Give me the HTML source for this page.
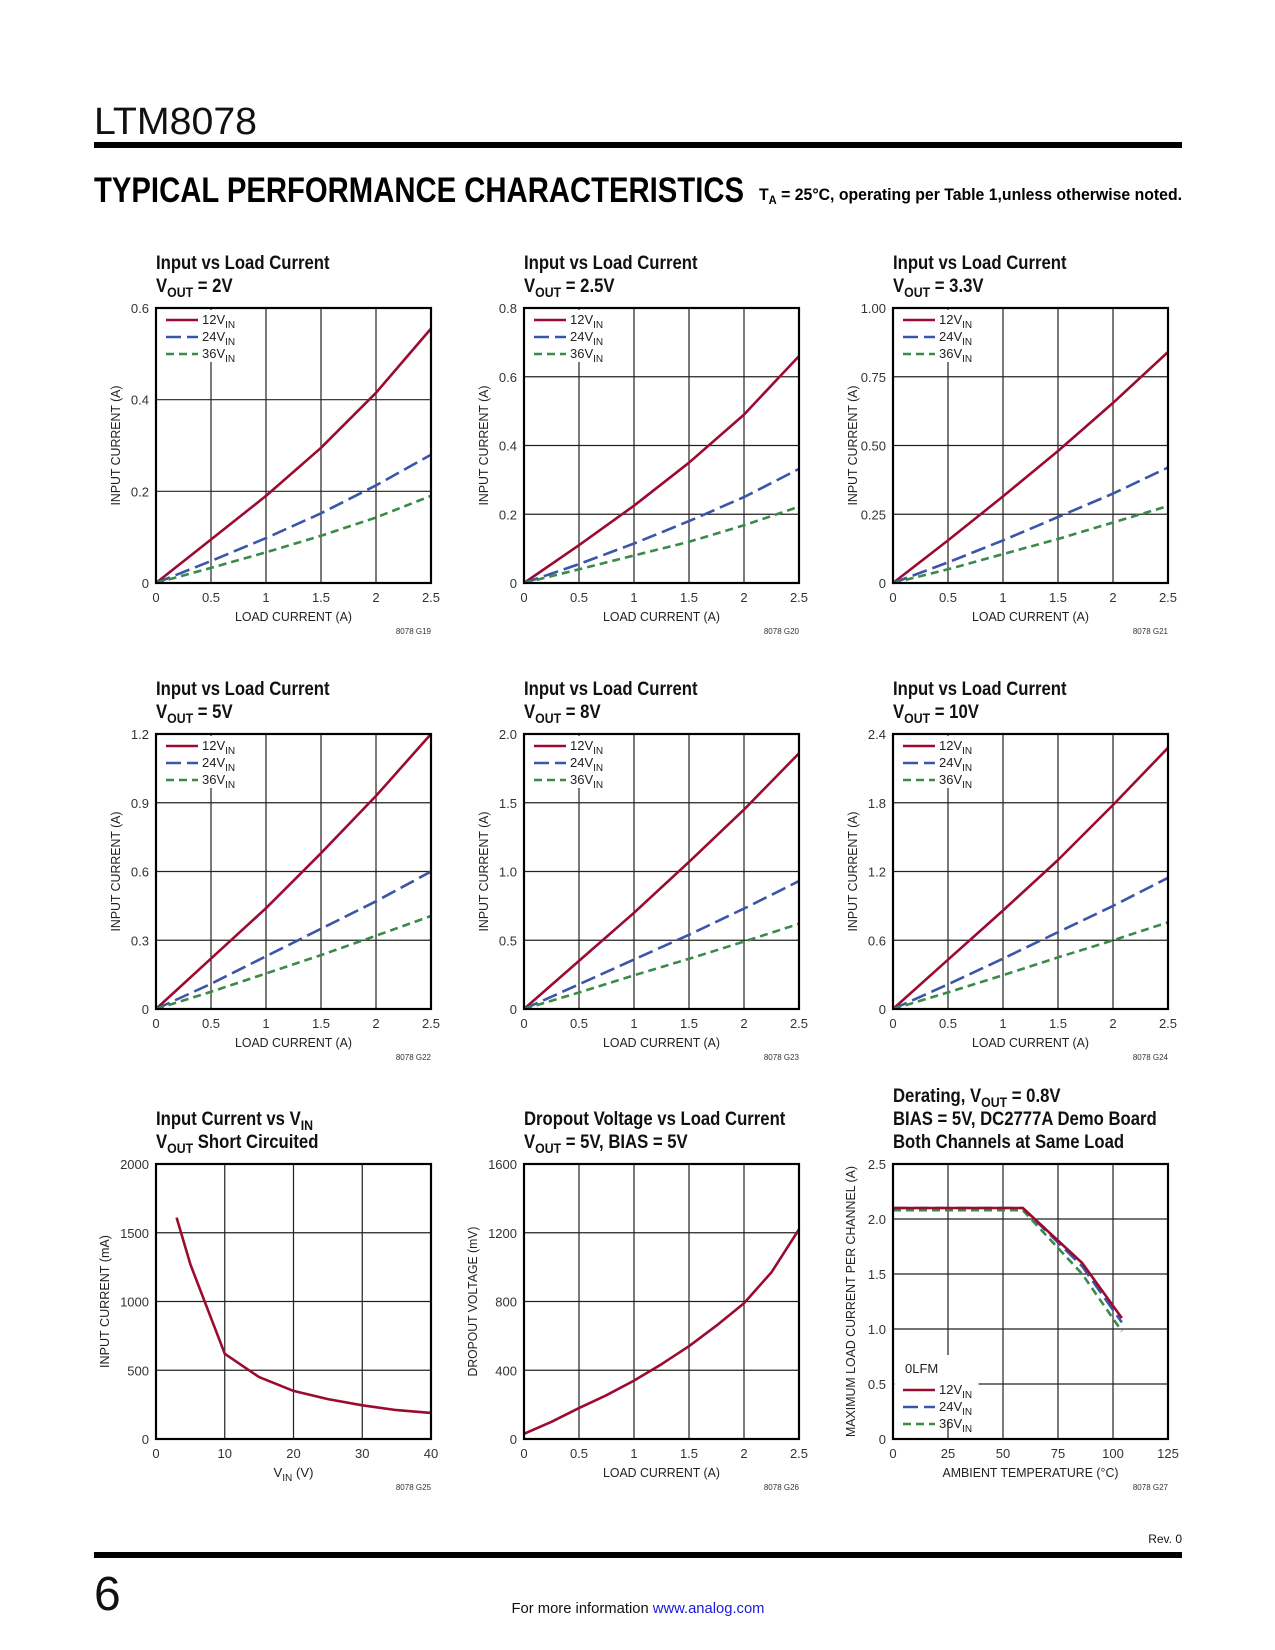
<!DOCTYPE html>
<html><head><meta charset="utf-8"><style>
html,body{margin:0;padding:0;background:#fff}
svg{display:block}
text{font-family:"Liberation Sans",sans-serif}
</style></head><body>
<svg id="page" width="1275" height="1650" viewBox="0 0 1275 1650" xmlns="http://www.w3.org/2000/svg">
<rect x="0" y="0" width="1275" height="1650" fill="#fff"/>
<text x="94" y="134" font-size="38" fill="#111" textLength="163" lengthAdjust="spacingAndGlyphs">LTM8078</text>
<rect x="94" y="142" width="1088" height="6" fill="#000"/>
<text x="94" y="202" font-size="35" font-weight="bold" fill="#000" textLength="650" lengthAdjust="spacingAndGlyphs">TYPICAL PERFORMANCE CHARACTERISTICS</text>
<text x="759" y="200" font-size="17" font-weight="bold" fill="#000" textLength="423" lengthAdjust="spacingAndGlyphs">T<tspan dy="4" font-size="12">A</tspan><tspan dy="-4"> = 25°C, operating per Table 1,unless otherwise noted.</tspan></text>
<text x="1182" y="1543" font-size="12" fill="#111" text-anchor="end">Rev. 0</text>
<rect x="94" y="1552" width="1088" height="6" fill="#000"/>
<text x="94" y="1610" font-size="48" fill="#111">6</text>
<text x="638" y="1613" font-size="15" fill="#111" text-anchor="middle" textLength="253" lengthAdjust="spacingAndGlyphs">For more information <tspan fill="#1a1adc">www.analog.com</tspan></text>
</svg>
<script>
// ---- data ----
const loadX=[0,0.5,1,1.5,2,2.5];
const c1_12=[0,0.095,0.19,0.295,0.415,0.555];
const c1_24=[0,0.048,0.098,0.152,0.213,0.28];
const c1_36=[0,0.033,0.067,0.103,0.143,0.19];
const c2_12=[0,0.11,0.225,0.35,0.49,0.66];
const c2_24=[0,0.055,0.115,0.18,0.25,0.332];
const c2_36=[0,0.04,0.08,0.12,0.168,0.222];
const c3_12=[0,0.155,0.315,0.48,0.655,0.84];
const c3_24=[0,0.075,0.155,0.24,0.325,0.42];
const c3_36=[0,0.05,0.105,0.16,0.22,0.28];
const c4_12=[0,0.22,0.44,0.68,0.93,1.2];
const c4_24=[0,0.11,0.23,0.35,0.47,0.6];
const c4_36=[0,0.075,0.155,0.235,0.32,0.406];
const c5_12=[0,0.35,0.70,1.07,1.45,1.86];
const c5_24=[0,0.18,0.36,0.54,0.73,0.93];
const c5_36=[0,0.12,0.245,0.365,0.49,0.62];
const c6_12=[0,0.43,0.86,1.3,1.78,2.28];
const c6_24=[0,0.215,0.44,0.67,0.9,1.145];
const c6_36=[0,0.145,0.295,0.45,0.6,0.757];
const c7_vin=[3,5,10,15,20,25,30,35,40];
const c7_ma=[1610,1270,620,450,350,290,245,210,190];
const c8_load=[0,0.25,0.5,0.75,1,1.25,1.5,1.75,2,2.25,2.5];
const c8_mv=[30,100,180,255,340,435,540,660,790,970,1220];
const c9_temp=[0,59,86,104];
const c9_12=[2.1,2.1,1.6,1.1];
const c9_24=[2.1,2.1,1.57,1.06];
const c9_36=[2.08,2.08,1.5,0.98];
const xLoadTicks=[0,0.5,1,1.5,2,2.5];
const xLoadLabels=['0','0.5','1','1.5','2','2.5'];
const y1Ticks=[0,0.2,0.4,0.6]; const y1Labels=['0','0.2','0.4','0.6'];
const y2Ticks=[0,0.2,0.4,0.6,0.8]; const y2Labels=['0','0.2','0.4','0.6','0.8'];
const y3Ticks=[0,0.25,0.5,0.75,1]; const y3Labels=['0','0.25','0.50','0.75','1.00'];
const y4Ticks=[0,0.3,0.6,0.9,1.2]; const y4Labels=['0','0.3','0.6','0.9','1.2'];
const y5Ticks=[0,0.5,1,1.5,2]; const y5Labels=['0','0.5','1.0','1.5','2.0'];
const y6Ticks=[0,0.6,1.2,1.8,2.4]; const y6Labels=['0','0.6','1.2','1.8','2.4'];
const x7Ticks=[0,10,20,30,40]; const x7Labels=['0','10','20','30','40'];
const y7Ticks=[0,500,1000,1500,2000]; const y7Labels=['0','500','1000','1500','2000'];
const y8Ticks=[0,400,800,1200,1600]; const y8Labels=['0','400','800','1200','1600'];
const x9Ticks=[0,25,50,75,100,125]; const x9Labels=['0','25','50','75','100','125'];
const y9Ticks=[0,0.5,1,1.5,2,2.5]; const y9Labels=['0','0.5','1.0','1.5','2.0','2.5'];

// ---- drawing ----
const NS='http://www.w3.org/2000/svg';
const svg=document.getElementById('page');
function mk(tag,attrs,parent){const e=document.createElementNS(NS,tag);for(const k in attrs)e.setAttribute(k,attrs[k]);(parent||svg).appendChild(e);return e;}
const ST={
 v12:{stroke:'#9b0b30','stroke-width':2.6,'stroke-dasharray':'none'},
 v24:{stroke:'#3b55a8','stroke-width':2.6,'stroke-dasharray':'15,6'},
 v36:{stroke:'#3a8a48','stroke-width':2.6,'stroke-dasharray':'8,5'}
};
const SUBIN='<tspan dy="4" font-size="10">IN</tspan>';
const VOUT='V<tspan dy="5" font-size="14">OUT</tspan><tspan dy="-5">';

function draw(c){
 const g=mk('g',{});
 
 
 const W=275,H=275,x0=c.x0,y0=c.y0;
 const sx=v=>x0+(v-c.xmin)/(c.xmax-c.xmin)*W;
 const sy=v=>y0+H-(v-c.ymin)/(c.ymax-c.ymin)*H;
 c.title.forEach((t,i)=>{
  const te=mk('text',{transform:`translate(${x0},${y0-16-(c.title.length-1-i)*23}) scale(0.88,1)`,'font-size':19,'font-weight':'bold',fill:'#111'},g);
  
  
  te.innerHTML=t;
 });
 c.xt.forEach(v=>{const l=mk('line',{x1:sx(v),x2:sx(v),y1:y0,y2:y0+H,stroke:'#222','stroke-width':1.2},g);
  
  });
 c.yt.forEach(v=>{const l=mk('line',{x1:x0,x2:x0+W,y1:sy(v),y2:sy(v),stroke:'#222','stroke-width':1.2},g);
  
  });
 c.xt.forEach((v,i)=>{const t=mk('text',{x:sx(v),y:y0+H+19,'font-size':13,fill:'#333','text-anchor':'middle'},g);t.textContent=c.xl[i];
  
  });
 c.yt.forEach((v,i)=>{const t=mk('text',{x:x0-7,y:sy(v)+5,'font-size':13,fill:'#333','text-anchor':'end'},g);t.textContent=c.yl[i];
  
  });
 const xt=mk('text',{x:x0+W/2,y:y0+H+38,'font-size':13,fill:'#222','text-anchor':'middle',textLength:c.xtl,lengthAdjust:'spacingAndGlyphs'},g);
 xt.innerHTML=c.xtitle;
 
 
 const yt=mk('text',{transform:`translate(${x0-(c.yto||36)},${y0+H/2}) rotate(-90)`,'font-size':13,fill:'#222','text-anchor':'middle',textLength:c.ytl,lengthAdjust:'spacingAndGlyphs'},g);
 yt.textContent=c.ytitle;
 
 
 const id=mk('text',{x:x0+W,y:y0+H+51,'font-size':8,fill:'#333','text-anchor':'end'},g);
 id.textContent=c.id;
 
 
 c.series.forEach(s=>{
  const d=s.x.map((xv,i)=>(i?'L':'M')+sx(xv).toFixed(1)+','+sy(s.y[i]).toFixed(1)).join(' ');
  const p=mk('path',Object.assign({d:d,fill:'none','stroke-linejoin':'round'},ST[s.st]),g);
  
  
 });
 if(c.legend){
  const L=c.legend;
  const r=mk('rect',{x:x0+1.5,y:L.y-L.pad,width:L.w,height:L.h,fill:'#fff'},g);
  
  
  if(L.head){const h=mk('text',{x:x0+12,y:L.y+2,'font-size':13,fill:'#222'},g);h.textContent=L.head;
   
   }
  ['v12','v24','v36'].forEach((k,i)=>{
   const yy=L.y+(L.head?19:0)+i*17;
   const ln=mk('line',Object.assign({x1:x0+10,x2:x0+42,y1:yy,y2:yy},ST[k]),g);
   
   
   const t=mk('text',{x:x0+46,y:yy+4,'font-size':13,fill:'#222'},g);
   t.innerHTML=['12','24','36'][i]+'V'+SUBIN;
   
   
  });
 }
 const b=mk('rect',{x:x0,y:y0,width:W,height:H,fill:'none',stroke:'#000','stroke-width':2.2},g);
 
 
}

const cols=[156,524,893], rows=[308,734,1164];
const topLeg=(y0)=>({y:y0+12,pad:10,w:84,h:52});
function loadChart(name,ci,ri,vout,ymax,yt,yl,a,b,d,id){
 draw({name:name,x0:cols[ci],y0:rows[ri],xmin:0,xmax:2.5,ymin:0,ymax:ymax,xt:xLoadTicks,xl:xLoadLabels,yt:yt,yl:yl,
  title:['Input vs Load Current',VOUT+' = '+vout+'</tspan>'],xtitle:'LOAD CURRENT (A)',xtl:117,ytitle:'INPUT CURRENT (A)',ytl:120,id:id,
  series:[{x:loadX,y:a,st:'v12'},{x:loadX,y:b,st:'v24'},{x:loadX,y:d,st:'v36'}],legend:topLeg(rows[ri])});
}
loadChart('chart-vout-2v',0,0,'2V',0.6,y1Ticks,y1Labels,c1_12,c1_24,c1_36,'8078 G19');
loadChart('chart-vout-2p5v',1,0,'2.5V',0.8,y2Ticks,y2Labels,c2_12,c2_24,c2_36,'8078 G20');
loadChart('chart-vout-3p3v',2,0,'3.3V',1.0,y3Ticks,y3Labels,c3_12,c3_24,c3_36,'8078 G21');
loadChart('chart-vout-5v',0,1,'5V',1.2,y4Ticks,y4Labels,c4_12,c4_24,c4_36,'8078 G22');
loadChart('chart-vout-8v',1,1,'8V',2.0,y5Ticks,y5Labels,c5_12,c5_24,c5_36,'8078 G23');
loadChart('chart-vout-10v',2,1,'10V',2.4,y6Ticks,y6Labels,c6_12,c6_24,c6_36,'8078 G24');
draw({name:'chart-input-current-vs-vin',x0:cols[0],y0:rows[2],xmin:0,xmax:40,ymin:0,ymax:2000,xt:x7Ticks,xl:x7Labels,yt:y7Ticks,yl:y7Labels,
 title:['Input Current vs V<tspan dy="5" font-size="14">IN</tspan>',VOUT+' Short Circuited</tspan>'],
 xtitle:'V<tspan dy="4" font-size="10">IN</tspan><tspan dy="-4"> (V)</tspan>',xtl:40,ytitle:'INPUT CURRENT (mA)',ytl:133,yto:47,id:'8078 G25',
 series:[{x:c7_vin,y:c7_ma,st:'v12'}]});
draw({name:'chart-dropout-voltage',x0:cols[1],y0:rows[2],xmin:0,xmax:2.5,ymin:0,ymax:1600,xt:xLoadTicks,xl:xLoadLabels,yt:y8Ticks,yl:y8Labels,
 title:['Dropout Voltage vs Load Current',VOUT+' = 5V, BIAS = 5V</tspan>'],
 xtitle:'LOAD CURRENT (A)',xtl:117,ytitle:'DROPOUT VOLTAGE (mV)',ytl:150,yto:47,id:'8078 G26',
 series:[{x:c8_load,y:c8_mv,st:'v12'}]});
draw({name:'chart-derating',x0:cols[2],y0:rows[2],xmin:0,xmax:125,ymin:0,ymax:2.5,xt:x9Ticks,xl:x9Labels,yt:y9Ticks,yl:y9Labels,
 title:['Derating, '+VOUT+' = 0.8V</tspan>','BIAS = 5V, DC2777A Demo Board','Both Channels at Same Load'],
 xtitle:'AMBIENT TEMPERATURE (°C)',xtl:176,ytitle:'MAXIMUM LOAD CURRENT PER CHANNEL (A)',ytl:271,yto:38,id:'8078 G27',
 series:[{x:c9_temp,y:c9_36,st:'v36'},{x:c9_temp,y:c9_24,st:'v24'},{x:c9_temp,y:c9_12,st:'v12'}],
 legend:{y:rows[2]+207,pad:16,w:84,h:66,head:'0LFM'}});
</script>
</body></html>
